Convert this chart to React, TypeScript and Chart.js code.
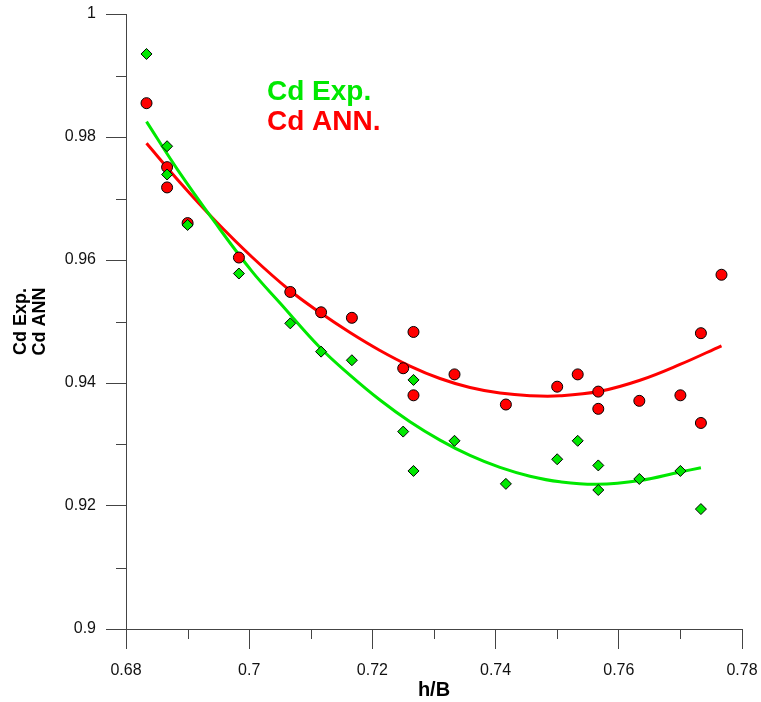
import React, { useEffect, useRef } from 'react';
import { Chart, registerables } from 'chart.js';

Chart.register(...registerables);

// ---- data ----
const expX = [0.68333, 0.68667, 0.68667, 0.69, 0.69833, 0.70667, 0.71167, 0.71667, 0.725, 0.72667, 0.72667, 0.73333, 0.74167, 0.75, 0.75333, 0.75667, 0.75667, 0.76333, 0.77, 0.77333];
const expY = [0.9935, 0.9785, 0.9739, 0.9657, 0.9578, 0.9497, 0.9451, 0.9437, 0.9321, 0.9405, 0.9257, 0.9306, 0.9236, 0.9276, 0.9306, 0.9266, 0.9226, 0.9244, 0.9257, 0.9195];

const annX = [0.68333, 0.68667, 0.68667, 0.69, 0.69833, 0.70667, 0.71167, 0.71667, 0.725, 0.72667, 0.72667, 0.73333, 0.74167, 0.75, 0.75333, 0.75667, 0.75667, 0.76333, 0.77, 0.77333, 0.77333, 0.77667];
const annY = [0.9855, 0.9751, 0.9718, 0.966, 0.9604, 0.9548, 0.9515, 0.9506, 0.9424, 0.9483, 0.938, 0.9414, 0.9365, 0.9394, 0.9414, 0.9386, 0.9358, 0.9371, 0.938, 0.9481, 0.9335, 0.9576];

const expFitX = [0.68333, 0.68828, 0.69445, 0.70045, 0.705, 0.71149, 0.71636, 0.72123, 0.7261, 0.73097, 0.73584, 0.74071, 0.74558, 0.75045, 0.75646, 0.76344, 0.76994, 0.77333];
const expFitY = [0.98249, 0.97483, 0.9661, 0.95815, 0.95301, 0.94577, 0.94129, 0.93724, 0.93371, 0.93072, 0.92823, 0.92628, 0.92485, 0.92394, 0.92353, 0.92415, 0.92553, 0.92621];

const annFitX = [0.68333, 0.68877, 0.69445, 0.70045, 0.70662, 0.71149, 0.71636, 0.72123, 0.7261, 0.73097, 0.73584, 0.74071, 0.74558, 0.75045, 0.75695, 0.76344, 0.76994, 0.77667];
const annFitY = [0.97898, 0.9726, 0.96642, 0.96049, 0.95504, 0.95146, 0.94821, 0.94529, 0.94276, 0.94073, 0.93927, 0.93837, 0.93794, 0.93792, 0.93865, 0.94044, 0.94301, 0.94605];

const xMin = 0.68, xMax = 0.78, xStep = 0.02;
const yMin = 0.9, yMax = 1, yStep = 0.02;
const xMinorTicks = [0.69, 0.71, 0.73, 0.75, 0.77];
const yMinorTicks = [0.91, 0.93, 0.95, 0.97, 0.99];

const legendLabels = ['Cd Exp.', 'Cd ANN.'];
const yTitle = ['Cd Exp.', 'Cd ANN'];
const xTitle = 'h/B';

// ---- styles ----
const GREEN = '#00e800';
const RED = '#ff0000';
const AXIS = '#444444';
const FONT = "Arial, 'Liberation Sans', sans-serif";

const zip = (xs: number[], ys: number[]) => xs.map((x, i) => ({ x, y: ys[i] }));
const fmt = (v: number | string) => String(+Number(v).toFixed(3));

const minorTicksPlugin = {
  id: 'minorTicks',
  afterDraw(chart: any) {
    const { ctx } = chart;
    const xs = chart.scales.x;
    const ys = chart.scales.y;
    ctx.save();
    ctx.strokeStyle = AXIS;
    ctx.lineWidth = 1;
    ctx.beginPath();
    for (const v of xMinorTicks) {
      const px = Math.round(xs.getPixelForValue(v)) + 0.5;
      ctx.moveTo(px, ys.bottom);
      ctx.lineTo(px, ys.bottom + 10);
    }
    for (const v of yMinorTicks) {
      const py = Math.round(ys.getPixelForValue(v)) + 0.5;
      ctx.moveTo(xs.left - 10, py);
      ctx.lineTo(xs.left, py);
    }
    ctx.stroke();
    ctx.restore();
  },
};

const textLegendPlugin = {
  id: 'textLegend',
  afterDraw(chart: any) {
    const { ctx, chartArea } = chart;
    ctx.save();
    ctx.font = `bold 28px ${FONT}`;
    ctx.textAlign = 'left';
    ctx.textBaseline = 'alphabetic';
    const colors = [GREEN, RED];
    legendLabels.forEach((t, i) => {
      ctx.fillStyle = colors[i];
      ctx.fillText(t, chartArea.left + 141, chartArea.top + 86 + i * 30);
    });
    ctx.restore();
  },
};

export default function App() {
  const ref = useRef<HTMLCanvasElement | null>(null);

  useEffect(() => {
    if (!ref.current) return;
    const chart = new Chart(ref.current, {
      type: 'scatter',
      data: {
        datasets: [
          {
            label: 'Cd Exp. points',
            data: zip(expX, expY),
            pointStyle: 'rectRot',
            pointRadius: 5.5,
            pointBackgroundColor: GREEN,
            pointBorderColor: '#000',
            pointBorderWidth: 1,
            showLine: false,
            order: 1,
          },
          {
            label: 'Cd ANN. points',
            data: zip(annX, annY),
            pointStyle: 'circle',
            pointRadius: 5.5,
            pointBackgroundColor: RED,
            pointBorderColor: '#000',
            pointBorderWidth: 1,
            showLine: false,
            order: 2,
          },
          {
            label: 'Cd Exp. fit',
            data: zip(expFitX, expFitY),
            showLine: true,
            pointRadius: 0,
            borderColor: GREEN,
            borderWidth: 3,
            tension: 0.4,
            order: 3,
          },
          {
            label: 'Cd ANN. fit',
            data: zip(annFitX, annFitY),
            showLine: true,
            pointRadius: 0,
            borderColor: RED,
            borderWidth: 3,
            tension: 0.4,
            order: 4,
          },
        ],
      },
      options: {
        responsive: false,
        animation: false,
        events: [],
        layout: { padding: { top: 14, right: 19, left: 0, bottom: 0 } },
        plugins: {
          legend: { display: false },
          tooltip: { enabled: false },
        },
        scales: {
          x: {
            type: 'linear',
            min: xMin,
            max: xMax,
            afterFit: (s: any) => { s.height = 73; s.paddingLeft = 0; s.paddingRight = 0; },
            ticks: {
              stepSize: xStep,
              autoSkip: false,
              maxRotation: 0,
              padding: 12,
              color: '#111',
              font: { family: FONT, size: 16 },
              callback: (v: any) => fmt(v),
            },
            grid: {
              drawOnChartArea: false,
              drawTicks: true,
              tickLength: 20,
              tickColor: AXIS,
              color: AXIS,
            },
            border: { color: AXIS, width: 1 },
            title: {
              display: true,
              text: xTitle,
              color: '#000',
              font: { family: FONT, size: 20, weight: 'bold' },
              padding: { top: 0, bottom: 0 },
            },
          },
          y: {
            type: 'linear',
            min: yMin,
            max: yMax,
            afterFit: (s: any) => { s.width = 126; s.paddingTop = 0; s.paddingBottom = 0; },
            ticks: {
              stepSize: yStep,
              autoSkip: false,
              padding: 10,
              color: '#111',
              font: { family: FONT, size: 16 },
              callback: (v: any) => fmt(v),
            },
            grid: {
              drawOnChartArea: false,
              drawTicks: true,
              tickLength: 20,
              tickColor: AXIS,
              color: AXIS,
            },
            border: { color: AXIS, width: 1 },
            title: {
              display: true,
              text: yTitle,
              color: '#000',
              font: { family: FONT, size: 18, weight: 'bold', lineHeight: 1.02 },
              padding: { top: 12, bottom: 0 },
            },
          },
        },
      },
      plugins: [minorTicksPlugin, textLegendPlugin],
    } as any);
    return () => chart.destroy();
  }, []);

  return (
    <div style={{ position: 'absolute', left: 0, top: 0, width: 761, height: 702, background: '#fff' }}>
      <canvas ref={ref} width={761} height={702} style={{ display: 'block' }} />
    </div>
  );
}
